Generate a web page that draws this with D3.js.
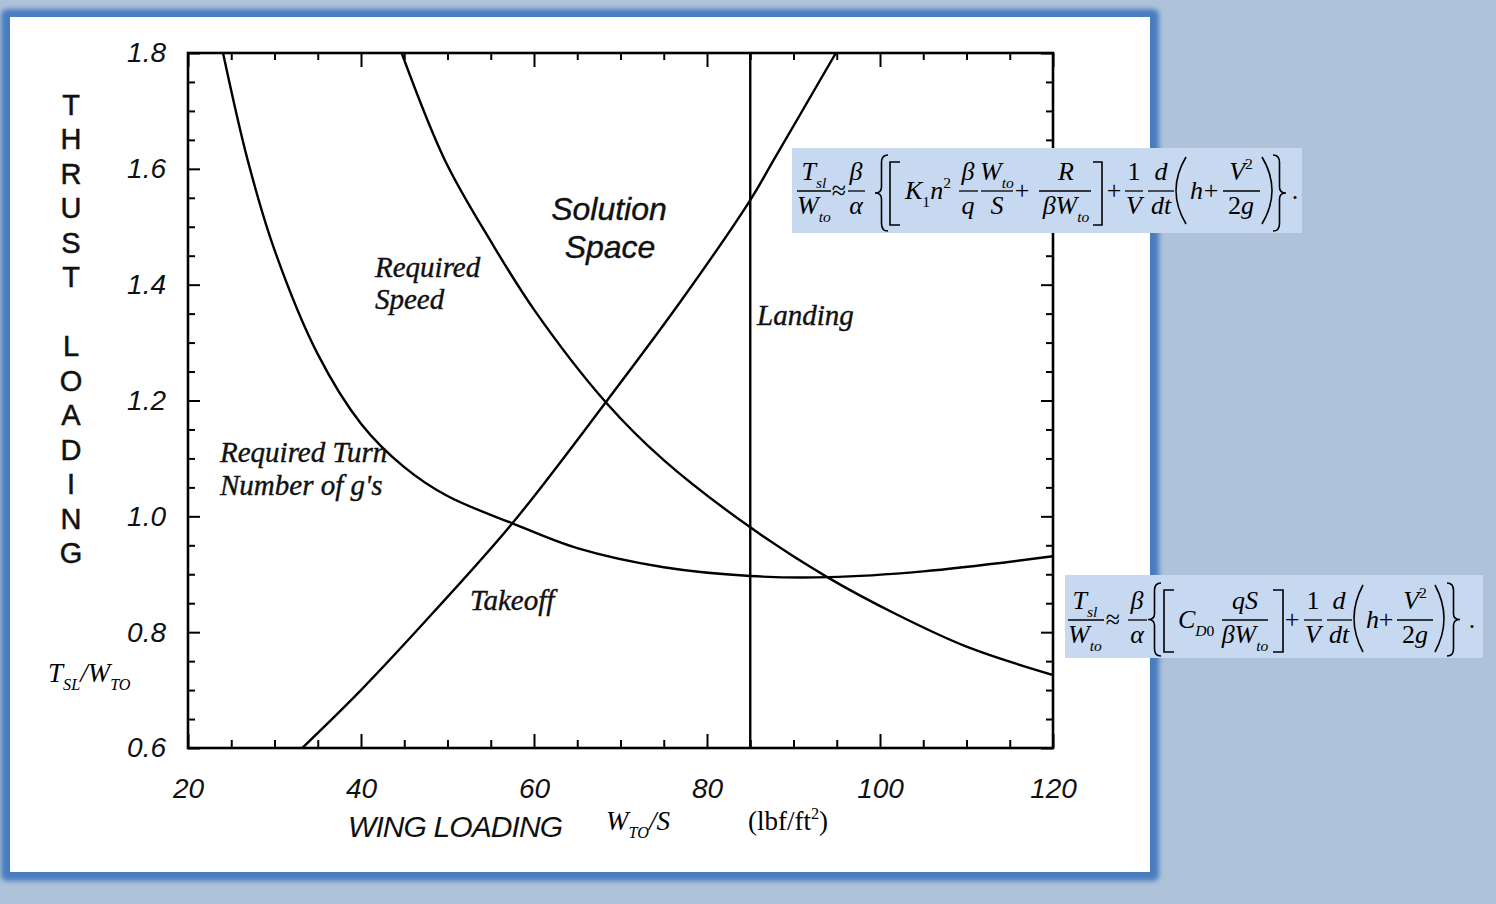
<!DOCTYPE html>
<html><head><meta charset="utf-8">
<script src="https://cdn.jsdelivr.net/npm/d3@7"></script>
<style>
html,body{margin:0;padding:0;background:#aec3d9;overflow:hidden;}
svg{display:block;}
</style></head><body>
<svg id="c" width="1496" height="904"></svg>
<script>
// ---- data ----
const wingLoadingTicks = [20, 40, 60, 80, 100, 120];
const wingLoadingMinor = [25,30,35,45,50,55,65,70,75,85,90,95,105,110,115];
const thrustTicks = [0.6, 0.8, 1.0, 1.2, 1.4, 1.6, 1.8];
const thrustTickLabels = ["0.6", "0.8", "1.0", "1.2", "1.4", "1.6", "1.8"];
const thrustMinor = [0.65,0.7,0.75,0.85,0.9,0.95,1.05,1.1,1.15,1.25,1.3,1.35,1.45,1.5,1.55,1.65,1.7,1.75];

const takeoffW = [33.2, 40, 48.3, 57.5, 68.3, 76.9, 85, 87.7, 94.9];
const takeoffT = [0.60, 0.70, 0.833, 0.988, 1.197, 1.37, 1.546, 1.615, 1.80];

const speedW = [44.7, 49.7, 55, 60, 68.3, 75, 85, 93.9, 102, 110, 120];
const speedT = [1.80, 1.615, 1.475, 1.357, 1.197, 1.097, 0.981, 0.895, 0.830, 0.775, 0.726];

const turnW = [24.05, 26.9, 30, 35, 40, 45, 50, 57.5, 65, 75, 85, 94, 105, 120];
const turnT = [1.80, 1.615, 1.46, 1.28, 1.16, 1.085, 1.035, 0.988, 0.945, 0.912, 0.897, 0.895, 0.905, 0.931];

const landingW = 85;

const svg = d3.select("#c");
const defs = svg.append("defs");
const f = defs.append("filter").attr("id","glow").attr("x","-5%").attr("y","-5%").attr("width","110%").attr("height","110%");
f.append("feGaussianBlur").attr("stdDeviation", 2.5);
const cp = defs.append("clipPath").attr("id","plotclip");

// background + panel
svg.append("rect").attr("width",1496).attr("height",904).attr("fill","#aec3d9");
svg.append("rect").attr("x",1).attr("y",9).attr("width",1158).attr("height",872).attr("rx",6)
  .attr("fill","#4a7bbf").attr("filter","url(#glow)");
svg.append("rect").attr("x",10).attr("y",17).attr("width",1140).attr("height",855).attr("fill","#fff");

const x = d3.scaleLinear().domain([20,120]).range([188,1053]);
const y = d3.scaleLinear().domain([0.6,1.8]).range([748,53]);
cp.append("rect").attr("x",188).attr("y",53).attr("width",865).attr("height",695);

const sansIt = "'Liberation Sans', Arial, sans-serif";
const serif = "'Liberation Serif','Times New Roman',serif";

function styleAxis(g){
  g.select(".domain").remove();
  g.selectAll(".tick line").attr("stroke","#000").attr("stroke-width",2);
  g.selectAll(".tick text").attr("font-family",sansIt).attr("font-style","italic")
    .attr("font-size",28).attr("fill","#111");
}
// bottom
svg.append("g").attr("transform","translate(0,748)")
  .call(d3.axisBottom(x).tickValues(wingLoadingTicks).tickSize(-14).tickPadding(30).tickFormat(d=>String(d))).call(styleAxis);
svg.append("g").attr("transform","translate(0,748)")
  .call(d3.axisBottom(x).tickValues(wingLoadingMinor).tickSize(-8).tickFormat("")).call(styleAxis);
// top
svg.append("g").attr("transform","translate(0,53)")
  .call(d3.axisTop(x).tickValues(wingLoadingTicks).tickSize(-14).tickFormat("")).call(styleAxis);
svg.append("g").attr("transform","translate(0,53)")
  .call(d3.axisTop(x).tickValues(wingLoadingMinor).tickSize(-7).tickFormat("")).call(styleAxis);
// left
svg.append("g").attr("transform","translate(188,0)")
  .call(d3.axisLeft(y).tickValues(thrustTicks).tickSize(-12).tickPadding(22).tickFormat((d,i)=>thrustTickLabels[i])).call(styleAxis);
svg.append("g").attr("transform","translate(188,0)")
  .call(d3.axisLeft(y).tickValues(thrustMinor).tickSize(-7).tickFormat("")).call(styleAxis);
// right
svg.append("g").attr("transform","translate(1053,0)")
  .call(d3.axisRight(y).tickValues(thrustTicks).tickSize(-12).tickFormat("")).call(styleAxis);
svg.append("g").attr("transform","translate(1053,0)")
  .call(d3.axisRight(y).tickValues(thrustMinor).tickSize(-7).tickFormat("")).call(styleAxis);

// frame
svg.append("rect").attr("x",x(20)).attr("y",y(1.8)).attr("width",x(120)-x(20)).attr("height",y(0.6)-y(1.8))
  .attr("fill","none").attr("stroke","#000").attr("stroke-width",2.6);

// curves
const line = d3.line().x(d=>x(d[0])).y(d=>y(d[1])).curve(d3.curveCatmullRom.alpha(0.5));
const curves = svg.append("g").attr("clip-path","url(#plotclip)");
[[takeoffW,takeoffT],[speedW,speedT],[turnW,turnT]].forEach(([w,t])=>{
  curves.append("path").datum(w.map((v,i)=>[v,t[i]])).attr("d",line)
    .attr("fill","none").attr("stroke","#000").attr("stroke-width",2.4);
});
curves.append("line").attr("x1",x(landingW)).attr("x2",x(landingW)).attr("y1",y(0.6)).attr("y2",y(1.8))
  .attr("stroke","#000").attr("stroke-width",2.4);

// curve labels
function lab(t, px, py, opts={}){
  return svg.append("text").attr("x",px).attr("y",py).text(t)
    .attr("font-family",opts.family||serif).attr("font-style","italic")
    .attr("font-size",opts.size||29).attr("fill","#111")
    .attr("stroke","#111").attr("stroke-width",opts.sw==null?0.4:opts.sw)
    .attr("text-anchor",opts.anchor||"start");
}
lab("Required", 375, 277);
lab("Speed", 375, 309);
lab("Required Turn", 220, 462);
lab("Number of g's", 220, 495);
lab("Takeoff", 470, 610);
lab("Landing", 757, 325);
lab("Solution", 609, 220, {family:sansIt, size:32, anchor:"middle", sw:0.4});
lab("Space", 610, 258, {family:sansIt, size:32, anchor:"middle", sw:0.4});

// axis titles
const ttl = "THRUST LOADING".split("");
ttl.forEach((ch,i)=>{
  if(ch===" ") return;
  svg.append("text").attr("x",71).attr("y",104 + i*34.5 + 10.5).attr("text-anchor","middle")
    .attr("font-family",sansIt).attr("font-size",29).attr("fill","#111")
    .attr("stroke","#111").attr("stroke-width",0.5).text(ch);
});
svg.append("text").attr("x",348).attr("y",837).attr("font-family",sansIt).attr("font-style","italic")
  .attr("font-size",30).attr("fill","#111").attr("textLength",215).text("WING LOADING");

function math(g, px, py, parts, size, anchor){
  size = size||26;
  const t = g.append("text").attr("x",px).attr("y",py).attr("font-family",serif)
    .attr("font-size",size).attr("text-anchor",anchor||"start").attr("fill","#000");
  let off = 0;
  parts.forEach(([s,k])=>{
    let target = 0, fs = size;
    if(k.startsWith("sub")){ target = size*0.3; fs = size*0.6; }
    if(k.startsWith("sup")){ target = -size*0.42; fs = size*0.6; }
    const it = !(k==="r"||k==="subr"||k==="supr");
    t.append("tspan").attr("dy",target-off).attr("font-size",fs)
      .attr("font-style",it?"italic":"normal").text(s);
    off = target;
  });
  return t;
}
// axis label pieces
math(svg, 48, 682, [["T","i"],["SL","sub"],["/W","i"],["TO","sub"]], 27);
math(svg, 606, 830, [["W","i"],["TO","sub"],["/S","i"]], 27);
math(svg, 748, 830, [["(lbf/ft","r"],["2","supr"],[")","r"]], 27);

// ---- equations ----
const EQ = 26;
function frac(g, cx, by, x1, x2, num, den){
  math(g, cx, by-11, num, EQ, "middle");
  math(g, cx, by+23, den, EQ, "middle");
  g.append("line").attr("x1",x1).attr("x2",x2).attr("y1",by).attr("y2",by).attr("stroke","#000").attr("stroke-width",1.3);
}
function op(g, cx, by, s){ math(g, cx, by+8, [[s,"r"]], EQ, "middle"); }
const SW = 1.6;
function bracketL(g,x0,x1,y0,y1){ g.append("path").attr("d",`M${x1},${y0}H${x0}V${y1}H${x1}`).attr("fill","none").attr("stroke","#000").attr("stroke-width",SW); }
function bracketR(g,x0,x1,y0,y1){ g.append("path").attr("d",`M${x0},${y0}H${x1}V${y1}H${x0}`).attr("fill","none").attr("stroke","#000").attr("stroke-width",SW); }
function parenL(g,x0,x1,y0,y1){ const ym=(y0+y1)/2; g.append("path").attr("d",`M${x1},${y0}Q${2*x0-x1},${ym} ${x1},${y1}`).attr("fill","none").attr("stroke","#000").attr("stroke-width",SW); }
function parenR(g,x0,x1,y0,y1){ const ym=(y0+y1)/2; g.append("path").attr("d",`M${x0},${y0}Q${2*x1-x0},${ym} ${x0},${y1}`).attr("fill","none").attr("stroke","#000").attr("stroke-width",SW); }
function braceL(g,x0,x1,y0,y1){
  const xm=(x0+x1)/2, ym=(y0+y1)/2, h=y1-y0;
  g.append("path").attr("d",`M${x1},${y0}Q${xm},${y0} ${xm},${y0+h*0.1}L${xm},${ym-h*0.08}Q${xm},${ym} ${x0},${ym}Q${xm},${ym} ${xm},${ym+h*0.08}L${xm},${y1-h*0.1}Q${xm},${y1} ${x1},${y1}`)
   .attr("fill","none").attr("stroke","#000").attr("stroke-width",SW);
}
function braceR(g,x0,x1,y0,y1){
  const xm=(x0+x1)/2, ym=(y0+y1)/2, h=y1-y0;
  g.append("path").attr("d",`M${x0},${y0}Q${xm},${y0} ${xm},${y0+h*0.1}L${xm},${ym-h*0.08}Q${xm},${ym} ${x1},${ym}Q${xm},${ym} ${xm},${ym+h*0.08}L${xm},${y1-h*0.1}Q${xm},${y1} ${x0},${y1}`)
   .attr("fill","none").attr("stroke","#000").attr("stroke-width",SW);
}

// box 1
const e1 = svg.append("g");
e1.append("rect").attr("x",792).attr("y",148).attr("width",510).attr("height",85).attr("fill","#c6d9f0");
{
  const b = 191;
  frac(e1, 814, b, 797, 831, [["T","i"],["sl","sub"]], [["W","i"],["to","sub"]]);
  op(e1, 839, b, "≈");
  frac(e1, 856, b, 848, 865, [["β","i"]], [["α","i"]]);
  braceL(e1, 875, 888, 155, 231);
  bracketL(e1, 890, 900, 162, 225);
  math(e1, 905, b+8, [["K","i"],["1","subr"],["n","i"],["2","supr"]], EQ);
  frac(e1, 968, b, 959, 978, [["β","i"]], [["q","i"]]);
  frac(e1, 997, b, 981, 1013, [["W","i"],["to","sub"]], [["S","i"]]);
  op(e1, 1022, b, "+");
  frac(e1, 1066, b, 1039, 1091, [["R","i"]], [["βW","i"],["to","sub"]]);
  bracketR(e1, 1093, 1102, 162, 225);
  op(e1, 1114, b, "+");
  frac(e1, 1134, b, 1125, 1143, [["1","r"]], [["V","i"]]);
  frac(e1, 1161, b, 1148, 1174, [["d","i"]], [["dt","i"]]);
  parenL(e1, 1176, 1186, 157, 224);
  math(e1, 1190, b+8, [["h","i"]], EQ);
  op(e1, 1211, b, "+");
  frac(e1, 1241, b, 1223, 1260, [["V","i"],["2","supr"]], [["2","r"],["g","i"]]);
  parenR(e1, 1262, 1272, 157, 224);
  braceR(e1, 1273, 1286, 155, 231);
  math(e1, 1295, b+8, [[".","r"]], EQ, "middle");
}
// box 2
const e2 = svg.append("g");
e2.append("rect").attr("x",1065).attr("y",575).attr("width",418).attr("height",83).attr("fill","#c6d9f0");
{
  const b = 620;
  frac(e2, 1085, b, 1068, 1104, [["T","i"],["sl","sub"]], [["W","i"],["to","sub"]]);
  op(e2, 1113, b, "≈");
  frac(e2, 1137, b, 1128, 1147, [["β","i"]], [["α","i"]]);
  braceL(e2, 1148, 1161, 583, 656);
  bracketL(e2, 1164, 1174, 590, 652);
  math(e2, 1178, b+8, [["C","i"],["D","sub"],["0","subr"]], EQ);
  frac(e2, 1245, b, 1222, 1268, [["qS","i"]], [["βW","i"],["to","sub"]]);
  bracketR(e2, 1273, 1283, 590, 652);
  op(e2, 1292, b, "+");
  frac(e2, 1313, b, 1304, 1322, [["1","r"]], [["V","i"]]);
  frac(e2, 1339, b, 1327, 1352, [["d","i"]], [["dt","i"]]);
  parenL(e2, 1354, 1363, 585, 652);
  math(e2, 1366, b+8, [["h","i"]], EQ);
  op(e2, 1386, b, "+");
  frac(e2, 1415, b, 1397, 1433, [["V","i"],["2","supr"]], [["2","r"],["g","i"]]);
  parenR(e2, 1435, 1444, 585, 652);
  braceR(e2, 1447, 1460, 583, 656);
  math(e2, 1472, b+8, [[".","r"]], EQ, "middle");
}
</script>
</body></html>
